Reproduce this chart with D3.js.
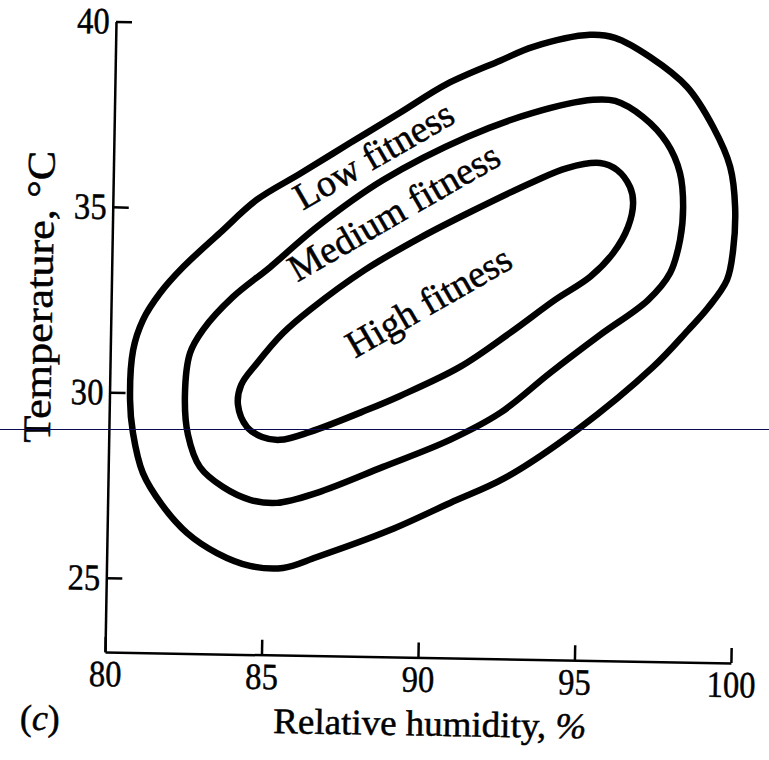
<!DOCTYPE html>
<html>
<head>
<meta charset="utf-8">
<script src="https://cdn.jsdelivr.net/npm/d3@7"></script>
<style>
  body { margin: 0; background: #fff; }
  svg { display: block; }
  text { font-family: "Liberation Serif", "Times New Roman", serif; fill: #000; stroke: #000; stroke-width: 0.5px; }
</style>
</head>
<body>
<svg id="chart" width="769" height="760"></svg>
<script>
// Axis domains and tick values
const humidityDomain = [80, 100];
const temperatureDomain = [23, 40];
const humidityTicks = [80, 85, 90, 95, 100];
const temperatureTicks = [25, 30, 35, 40];

// Fitness contours: [relative humidity %, temperature °C]
const lowFitness = [
  [80.66, 29.80], [80.73, 31.15], [81.03, 31.97], [81.56, 32.70], [82.28, 33.41],
  [83.44, 34.35], [84.60, 35.26], [85.96, 35.98], [87.54, 36.83], [89.12, 37.67],
  [90.61, 38.47], [92.29, 39.12], [93.34, 39.51], [95.15, 39.86], [95.95, 39.79],
  [97.08, 39.29], [98.28, 38.50], [99.13, 37.44], [99.70, 36.37], [99.88, 35.29],
  [99.84, 34.13], [99.66, 33.32], [99.07, 32.56], [98.45, 31.95], [97.35, 30.94],
  [94.96, 29.21], [92.68, 27.88], [90.94, 27.18], [89.04, 26.42], [86.72, 25.66],
  [85.64, 25.35], [84.58, 25.39], [83.52, 25.72], [82.55, 26.25], [81.74, 26.99],
  [81.11, 27.84], [80.77, 28.92]
];
const mediumFitness = [
  [82.41, 29.96], [82.55, 31.10], [82.95, 31.73], [83.89, 32.63], [85.06, 33.45],
  [86.54, 34.56], [88.62, 35.85], [91.28, 37.05], [93.37, 37.73], [95.28, 38.11],
  [95.99, 38.09], [96.89, 37.67], [97.67, 36.98], [98.10, 36.18], [98.22, 35.27],
  [98.14, 34.38], [97.84, 33.48], [97.15, 32.74], [95.64, 31.78], [94.06, 30.73],
  [92.49, 29.63], [90.90, 28.88], [88.78, 28.12], [86.68, 27.39], [85.41, 27.10],
  [84.55, 27.17], [83.68, 27.50], [82.93, 28.03], [82.53, 28.89]
];
const highFitness = [
  [84.11, 29.72], [84.20, 30.26], [84.70, 30.86], [85.51, 31.68], [86.36, 32.32],
  [88.09, 33.42], [89.83, 34.31], [91.42, 35.03], [93.41, 35.87], [94.49, 36.26],
  [95.54, 36.41], [96.09, 36.23], [96.51, 35.78], [96.62, 35.35], [96.47, 34.70],
  [96.01, 33.99], [95.29, 33.34], [94.18, 32.70], [92.76, 31.79], [91.18, 30.85],
  [89.28, 30.04], [88.24, 29.65], [86.43, 29.03], [85.47, 28.80], [84.90, 28.87],
  [84.41, 29.13]
];

// Zone labels placed between the contours
const zoneNames = ["Low fitness", "Medium fitness", "High fitness"];
const zoneHumidity = [88.51, 89.19, 90.35];
const zoneTemperature = [36.22, 34.70, 32.30];

const svg = d3.select("#chart");

const x = d3.scaleLinear().domain(humidityDomain).range([105, 731]);
const y = d3.scaleLinear().domain(temperatureDomain).range([652, 21.3]);

// The whole plate sits at a slight clockwise tilt
const plate = svg.append("g")
  .attr("transform", `rotate(1, ${x(80)}, ${y(23)})`);

// Axes with inward ticks
const xAxis = plate.append("g")
  .attr("transform", `translate(0, ${y(23)})`)
  .call(d3.axisBottom(x).tickValues(humidityTicks).tickSizeInner(-15).tickSizeOuter(0).tickPadding(8));
const yAxis = plate.append("g")
  .attr("transform", `translate(${x(80)}, 0)`)
  .call(d3.axisLeft(y).tickValues(temperatureTicks).tickSizeInner(-16).tickSizeOuter(0).tickPadding(7));

[xAxis, yAxis].forEach(a => {
  a.select(".domain").attr("stroke", "#000").attr("stroke-width", 2.5);
  a.selectAll(".tick line").attr("stroke", "#000").attr("stroke-width", 2.5);
  a.selectAll(".tick text")
    .attr("font-family", "'Liberation Serif', 'Times New Roman', serif")
    .attr("font-size", 37)
    .attr("fill", "#000")
    .attr("transform", "scale(0.88, 1)");
});

// Contour lines
const contour = d3.line()
  .x(d => x(d[0]))
  .y(d => y(d[1]))
  .curve(d3.curveCatmullRomClosed.alpha(0.5));

plate.selectAll("path.contour")
  .data([lowFitness, mediumFitness, highFitness])
  .join("path")
  .attr("class", "contour")
  .attr("d", contour)
  .attr("fill", "none")
  .attr("stroke", "#000")
  .attr("stroke-width", 6.5)
  .attr("stroke-linejoin", "round");

// Zone labels along the diagonal
plate.selectAll("text.zone")
  .data(zoneNames)
  .join("text")
  .attr("class", "zone")
  .attr("transform", (d, i) => `translate(${x(zoneHumidity[i])}, ${y(zoneTemperature[i])}) rotate(-31)`)
  .attr("text-anchor", "middle")
  .attr("font-size", 38)
  .text(d => d);

// Axis titles
plate.append("text")
  .attr("x", 431)
  .attr("y", 730)
  .attr("text-anchor", "middle")
  .attr("font-size", 36)
  .attr("textLength", 313)
  .attr("lengthAdjust", "spacingAndGlyphs")
  .call(t => {
    t.append("tspan").text("Relative humidity, ");
    t.append("tspan").attr("font-style", "italic").text("%");
  });

plate.append("text")
  .attr("transform", "translate(46, 298) rotate(-90)")
  .attr("text-anchor", "middle")
  .attr("font-size", 39)
  .attr("textLength", 292)
  .attr("lengthAdjust", "spacingAndGlyphs")
  .text("Temperature, °C");

// Panel letter
plate.append("text")
  .attr("x", 21)
  .attr("y", 731)
  .attr("font-size", 36)
  .call(t => {
    t.append("tspan").text("(");
    t.append("tspan").attr("font-style", "italic").text("c");
    t.append("tspan").text(")");
  });

// Thin horizontal rule across the sheet
svg.append("line")
  .attr("x1", 0).attr("x2", 769)
  .attr("y1", 429.5).attr("y2", 429.5)
  .attr("stroke", "#0a0a55")
  .attr("stroke-width", 1.2);
</script>
</body>
</html>
